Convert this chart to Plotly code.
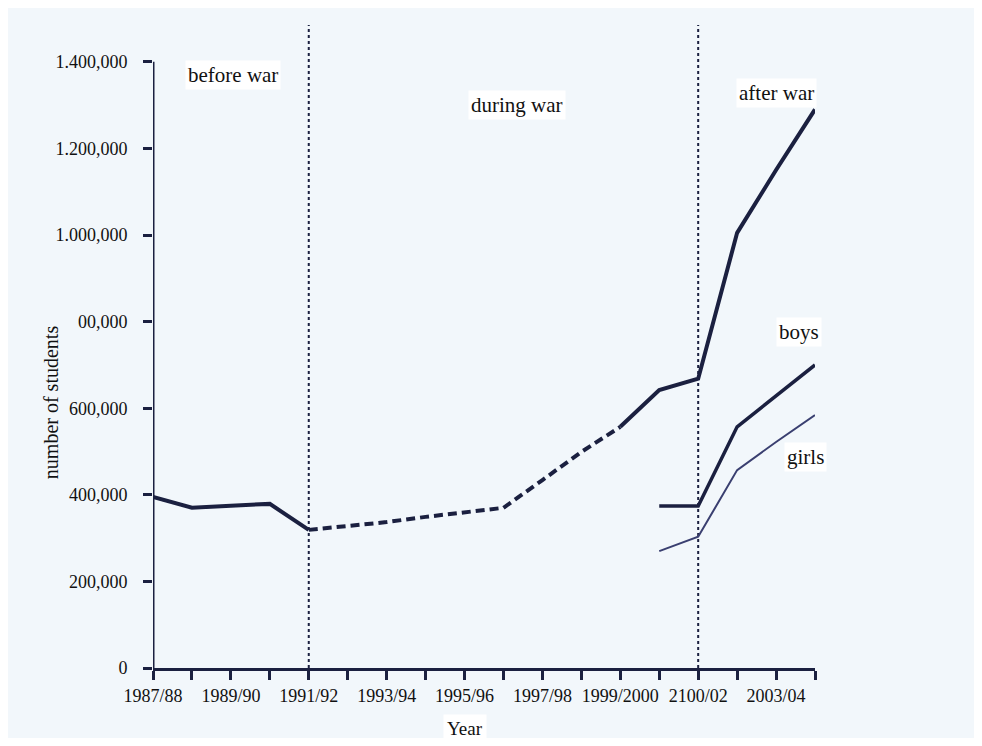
import plotly.graph_objects as go

years = ["1987/88", "1988/89", "1989/90", "1990/91", "1991/92", "1992/93",
         "1993/94", "1994/95", "1995/96", "1996/97", "1997/98", "1998/99",
         "1999/2000", "2000/01", "2001/02", "2002/03", "2003/04", "2004/05"]
tick_labels = ["1987/88", "", "1989/90", "", "1991/92", "", "1993/94", "",
               "1995/96", "", "1997/98", "", "1999/2000", "", "2100/02", "",
               "2003/04", ""]
y_ticks = [0, 200000, 400000, 600000, 800000, 1000000, 1200000, 1400000]
y_tick_labels = ["0", "200,000", "400,000", "600,000", "00,000",
                 "1.000,000", "1.200,000", "1.400,000"]

before_idx = [0, 1, 2, 3, 4]
before_total = [395000, 370000, 375000, 379000, 319000]
during_idx = [4, 5, 6, 7, 8, 9, 10, 11, 12]
during_total = [319000, 328000, 337000, 349000, 360000, 370000, 434000, 499000, 557000]
after_idx = [12, 13, 14, 15, 16, 17]
after_total = [557000, 642000, 668000, 1005000, 1150000, 1290000]
split_idx = [13, 14, 15, 16, 17]
boys = [374000, 374000, 557000, 628000, 700000]
girls = [270000, 303000, 457000, 522000, 584000]

war_marks = [4, 14]

INK = "#1b2040"
BG = "#f2f7fb"
FONT = "Liberation Serif"

W, H = 966, 730
ML, MR, MT, MB = 145, 159, 17, 70
PW = W - ML - MR
PH = H - MT - MB

fig = go.Figure()
fig.add_trace(go.Scatter(x=before_idx, y=before_total, mode="lines",
                         line=dict(color=INK, width=4), showlegend=False))
fig.add_trace(go.Scatter(x=during_idx, y=during_total, mode="lines",
                         line=dict(color=INK, width=4, dash="9px,5px"), showlegend=False))
fig.add_trace(go.Scatter(x=after_idx, y=after_total, mode="lines",
                         line=dict(color=INK, width=4), showlegend=False))
fig.add_trace(go.Scatter(x=split_idx, y=boys, mode="lines",
                         line=dict(color=INK, width=3.5), showlegend=False))
fig.add_trace(go.Scatter(x=split_idx, y=girls, mode="lines",
                         line=dict(color="#3a3f70", width=2), showlegend=False))

for xm in war_marks:
    fig.add_shape(type="line", xref="x", yref="y", x0=xm, x1=xm, y0=0, y1=1485000,
                  line=dict(color=INK, width=2, dash="dot"), layer="below")

# y axis line (stops at the top tick)
fig.add_shape(type="line", xref="x", yref="y", x0=0, x1=0, y0=0, y1=y_ticks[-1],
              line=dict(color=INK, width=3))

ann_font = dict(family=FONT, size=21, color="#111111")
texts = [("before war", 2.05, 1370000), ("during war", 9.35, 1300000),
         ("after war", 16.0, 1328000), ("boys", 16.6, 776000), ("girls", 16.75, 488000)]
for t, xx, yy in texts:
    fig.add_annotation(text=t, x=xx, y=yy, xref="x", yref="y", showarrow=False,
                       font=ann_font, bgcolor="white", borderpad=2)

fig.add_annotation(text="Year", x=8, y=(PH - (728 - 8 - MT)) / PH, xref="x", yref="paper",
                   yanchor="middle", showarrow=False,
                   font=dict(family=FONT, size=19, color="#111111"), bgcolor="white",
                   borderpad=3)
fig.add_annotation(text="number of students", x=(38 - 8 - ML) / PW, y=614000,
                   xref="paper", yref="y", showarrow=False, textangle=-90,
                   font=dict(family=FONT, size=20, color="#111111"))

fig.update_layout(
    width=W, height=H,
    margin=dict(l=ML, r=MR, t=MT, b=MB),
    paper_bgcolor=BG, plot_bgcolor=BG,
    font=dict(family=FONT, size=18, color="#111111"),
    showlegend=False,
)
fig.update_xaxes(range=[0, 17], tickvals=list(range(len(years))), ticktext=tick_labels,
                 showgrid=False, zeroline=False, showline=True, linecolor=INK, linewidth=3,
                 ticks="outside", ticklen=9, tickwidth=3, tickcolor=INK,
                 tickfont=dict(family=FONT, size=18, color="#111111"))
fig.update_yaxes(range=[0, 1485000], tickvals=y_ticks, ticktext=y_tick_labels,
                 showgrid=False, zeroline=False, showline=False,
                 ticks="outside", ticklen=9, tickwidth=3, tickcolor=INK,
                 ticklabelstandoff=12,
                 tickfont=dict(family=FONT, size=18, color="#111111"))

fig.write_html("out.html")
